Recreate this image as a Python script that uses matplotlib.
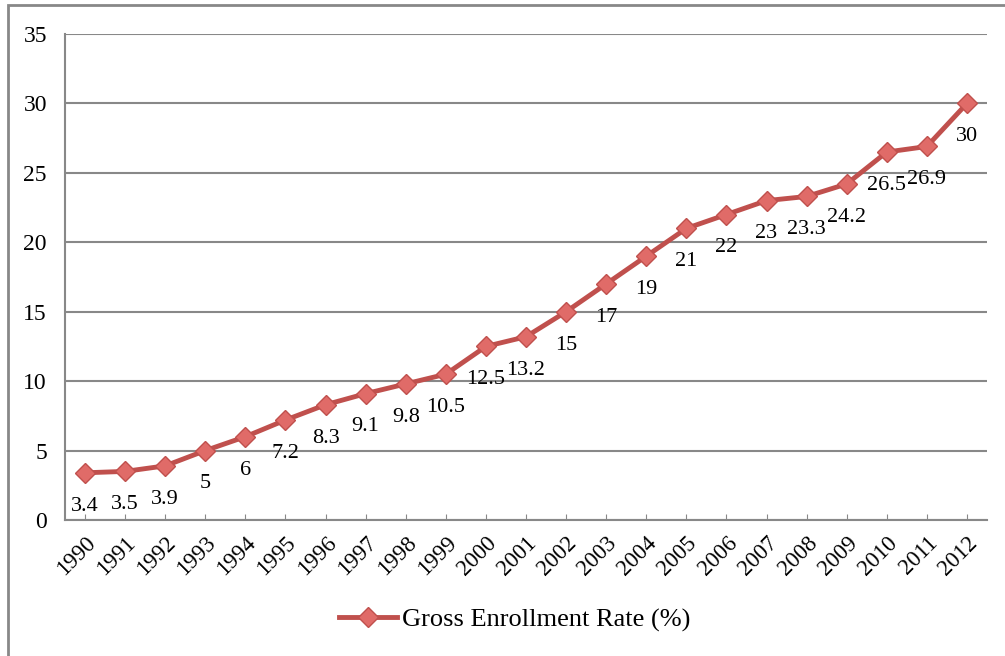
import numpy as np
import matplotlib
matplotlib.use('Agg')
import matplotlib.pyplot as plt
from matplotlib.patches import Rectangle

# Dados do gráfico
anos = ['1990', '1991', '1992', '1993', '1994', '1995', '1996', '1997',
        '1998', '1999', '2000', '2001', '2002', '2003', '2004', '2005',
        '2006', '2007', '2008', '2009', '2010', '2011', '2012']
taxa = [3.4, 3.5, 3.9, 5, 6, 7.2, 8.3, 9.1, 9.8, 10.5, 12.5, 13.2, 15,
        17, 19, 21, 22, 23, 23.3, 24.2, 26.5, 26.9, 30]
rotulos = ['3.4', '3.5', '3.9', '5', '6', '7.2', '8.3', '9.1', '9.8', '10.5',
           '12.5', '13.2', '15', '17', '19', '21', '22', '23', '23.3', '24.2',
           '26.5', '26.9', '30']

plt.rcParams['font.family'] = ['Liberation Serif', 'DejaVu Serif']

fig = plt.figure(figsize=(10.05, 6.56), dpi=100)
W, H = 1005, 656
ax = fig.add_axes([65 / W, 1 - 520 / H, (987 - 65) / W, (520 - 34) / H])

# moldura externa
fig.patches.append(Rectangle((8 / W, -0.1), 1.2, 0.1 + (656 - 5) / H,
                             transform=fig.transFigure, fill=False,
                             edgecolor='#888888', linewidth=2))

x = np.arange(len(anos))
linha, = ax.plot(x, taxa, color='#C0504D', linewidth=3.5, marker='D',
                 markersize=10, markerfacecolor='#E06B68',
                 markeredgecolor='#C0504D', markeredgewidth=1,
                 label='Gross Enrollment Rate (%)')

for xi, yi, r in zip(x, taxa, rotulos):
    ax.annotate(r, (xi, yi), xytext=(0, -24), textcoords='offset points',
                ha='center', va='center', fontsize=16, color='black')

ax.set_xlim(-0.5, len(anos) - 0.5)
ax.set_ylim(0, 35)
ax.set_yticks(range(0, 36, 5))
ax.set_xticks(x)
ax.set_xticklabels(anos, rotation=45, ha='right', va='top',
                   rotation_mode='anchor', fontsize=16.5)
ax.tick_params(axis='y', length=0, pad=13, labelsize=17)
ax.tick_params(axis='x', direction='in', length=4, color='#888888', pad=9)
ax.grid(axis='y', color='#888888', linewidth=1.5)
ax.set_axisbelow(True)
for lado in ['top', 'right']:
    ax.spines[lado].set_visible(False)
for lado in ['left', 'bottom']:
    ax.spines[lado].set_color('#888888')
    ax.spines[lado].set_linewidth(1.5)

fig.legend(handles=[linha], loc='center', bbox_to_anchor=(515 / W, 1 - 620 / H),
           frameon=False, fontsize=19, handlelength=2.2, handletextpad=0.2)

fig.savefig('out.png', dpi=100)
